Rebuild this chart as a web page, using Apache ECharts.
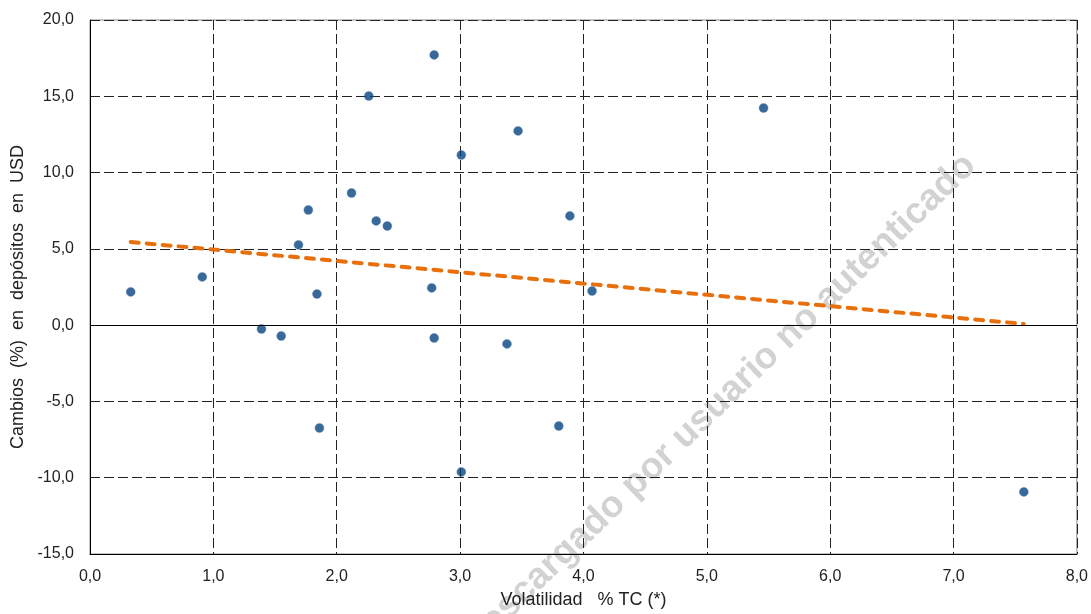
<!DOCTYPE html>
<html>
<head>
<meta charset="utf-8">
<script src="https://cdn.jsdelivr.net/npm/echarts@6/dist/echarts.min.js"></script>
<style>
  html, body { margin: 0; padding: 0; background: #fff; }
  #chart { width: 1091px; height: 614px; }
</style>
</head>
<body>
<div id="chart"></div>
<script>
// volatilidad del TC (%) de cada país
const volatilidad = [0.33, 0.91, 1.39, 1.55, 1.69, 1.77, 1.84, 1.86, 2.12, 2.26, 2.32, 2.41,
  2.77, 2.79, 2.79, 3.01, 3.01, 3.38, 3.47, 3.80, 3.89, 4.07, 5.46, 7.57]
// cambios (%) en depósitos en USD
const cambios = [2.18, 3.16, -0.25, -0.71, 5.26, 7.55, 2.04, -6.74, 8.66, 15.02, 6.83, 6.50,
  2.44, 17.71, -0.84, 11.15, -9.62, -1.23, 12.73, -6.61, 7.16, 2.24, 14.23, -10.93]
// recta de tendencia
const tendenciaX = [0.33, 7.57]
const tendenciaY = [5.45, 0.08]

const puntos = volatilidad.map((v, i) => [v, cambios[i]])
const tendencia = tendenciaX.map((v, i) => [v, tendenciaY[i]])

const fmt = (v) => v.toFixed(1).replace('.', ',')
const dashed = { color: '#222', width: 1, type: [10, 4] }

const chart = echarts.init(document.getElementById('chart'))
chart.setOption({
  animation: false,
  textStyle: { fontFamily: 'Liberation Sans, Arial, sans-serif' },
  grid: {
    left: 90, right: 14, top: 20, bottom: 60,
    show: true, borderColor: '#888', borderWidth: 1
  },
  xAxis: {
    type: 'value',
    min: 0, max: 8, interval: 1,
    name: 'Volatilidad   % TC (*)',
    nameLocation: 'middle',
    nameGap: 37,
    nameTextStyle: { fontSize: 18, color: '#222' },
    axisLine: { show: true, onZero: false, lineStyle: { color: '#000', width: 1 } },
    axisTick: { show: false },
    axisLabel: { formatter: fmt, fontSize: 16, color: '#222', margin: 15 },
    splitLine: { show: true, lineStyle: dashed }
  },
  yAxis: {
    type: 'value',
    min: -15, max: 20, interval: 5,
    name: 'Cambios  (%)  en  depósitos  en  USD',
    nameLocation: 'middle',
    nameRotate: 90,
    nameGap: 62,
    nameTextStyle: { fontSize: 18, color: '#222', padding: [0, 20, 0, 0] },
    axisLine: { show: true, lineStyle: { color: '#000', width: 1 } },
    axisTick: { show: false },
    axisLabel: { formatter: fmt, fontSize: 16, color: '#222', margin: 16 },
    splitLine: { show: true, lineStyle: dashed }
  },
  series: [
    {
      type: 'line',
      data: tendencia,
      symbol: 'none',
      lineStyle: { color: '#e8700c', width: 4, type: [8, 8], cap: 'round' },
      z: 3,
      markLine: {
        silent: true,
        symbol: 'none',
        label: { show: false },
        lineStyle: { color: '#000', width: 1, type: 'solid' },
        data: [{ yAxis: 0 }]
      }
    },
    {
      type: 'scatter',
      data: puntos,
      symbolSize: 9,
      itemStyle: { color: '#08437f', borderColor: '#4d80b8', borderWidth: 0.5 },
      z: 4
    }
  ],
  graphic: [{
    type: 'text',
    x: 719, y: 403,
    rotation: 44 * Math.PI / 180,
    z: -1,
    style: {
      text: 'Descargado por usuario no autenticado',
      font: 'bold 37px Liberation Sans, Arial, sans-serif',
      fill: '#d2d2d2',
      align: 'center',
      verticalAlign: 'middle'
    }
  }]
})
</script>
</body>
</html>
